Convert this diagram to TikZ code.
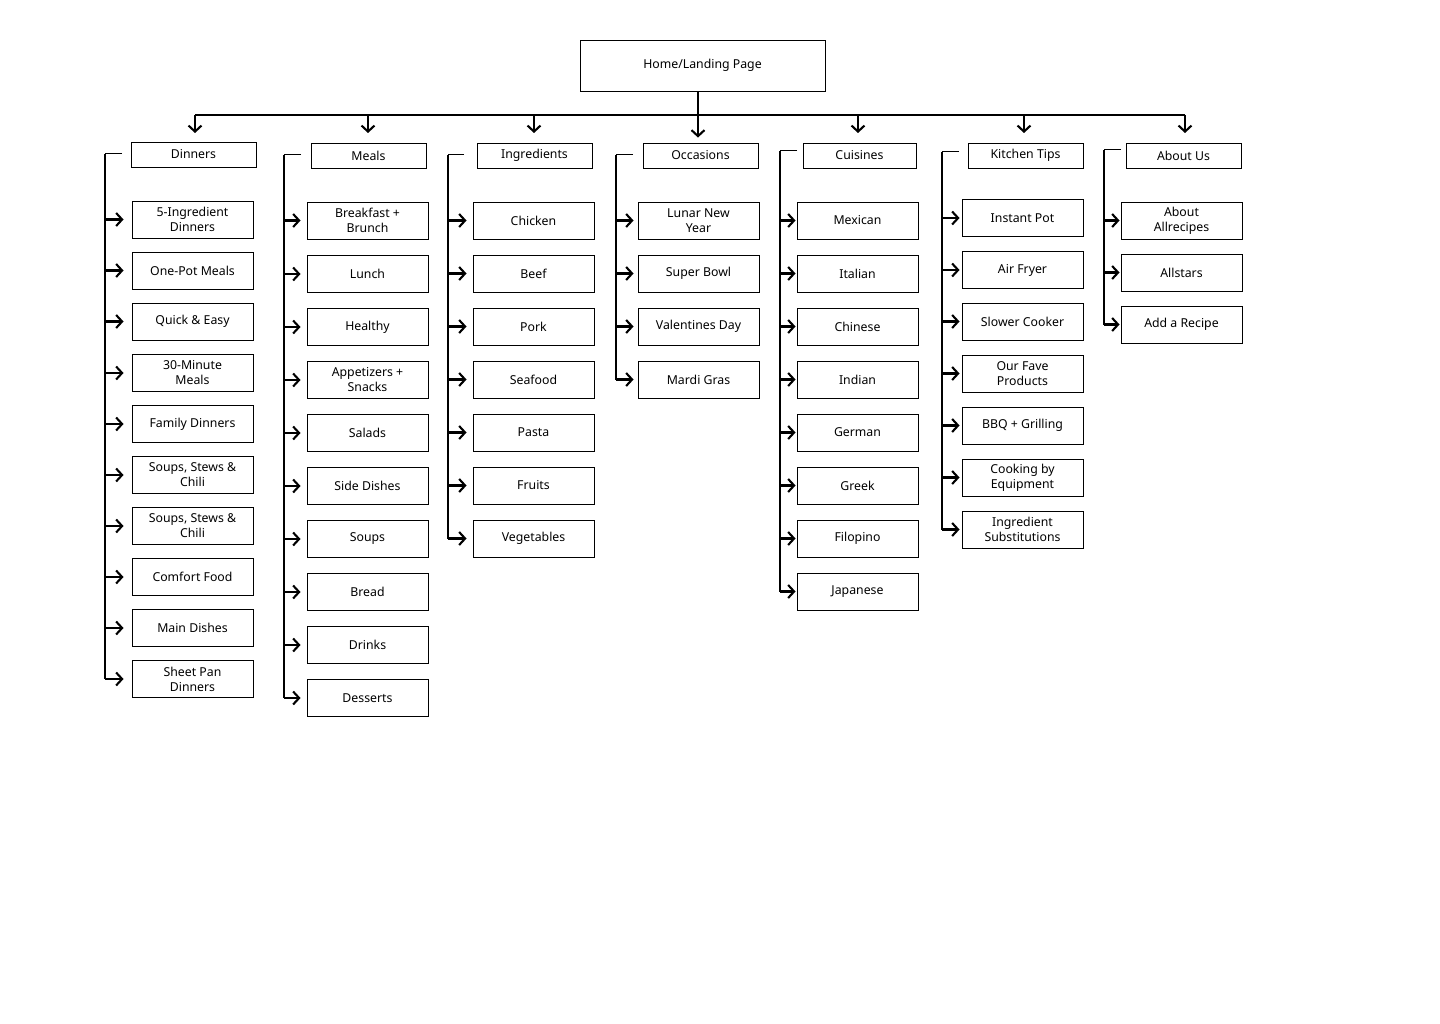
\documentclass[tikz,border=0pt]{standalone}
\usepackage{fontspec}
\setmainfont{Noto Sans}
\usetikzlibrary{arrows.meta}
\begin{document}
\begin{tikzpicture}[x=1pt,y=-1pt,
  every node/.style={font=\fontsize{12.3}{15}\selectfont, align=center, inner sep=0pt},
  pagebox/.style={draw, line width=0.9pt, minimum width=121pt, minimum height=37pt},
  headbox/.style={draw, line width=0.9pt, minimum width=115pt, minimum height=25pt},
  rootbox/.style={draw, line width=0.9pt, minimum width=245pt, minimum height=51pt},
  link/.style={line width=1.3pt},
  stub/.style={line width=1pt},
  arr/.style={line width=2.1pt, -{Straight Barb[length=6pt,width=13pt,line width=2.1pt]}}]
\useasboundingbox (0,0) rectangle (1440,1024);

% root
\node[rootbox] (home) at (702.5,65.5) {Home/Landing Page};

% section headers
\node[headbox, minimum width=125pt] (h1) at (193.5,154.5) {Dinners};
\node[headbox] (h2) at (368.5,155.5) {Meals};
\node[headbox] (h3) at (534.5,155.5) {Ingredients};
\node[headbox] (h4) at (700.5,155.5) {Occasions};
\node[headbox, minimum width=113pt] (h5) at (859.5,155.5) {Cuisines};
\node[headbox] (h6) at (1025.5,155.5) {Kitchen Tips};
\node[headbox] (h7) at (1183.5,155.5) {About Us};

% distribution bar
\coordinate (barL) at (195,115);
\coordinate (barR) at (1185,115);
\draw[link] (barL) -- (barR);
\draw[arr, shorten >=5pt] ([xshift=-4.5pt]home.south) -- ([xshift=-4.5pt]home.south |- h4.north);
\foreach \h/\x in {h1/195, h2/368, h3/534, h5/858, h6/1024, h7/1185}
  \draw[arr, shorten >=10pt] (\x,115) -- (\x,143);

% Dinners
\foreach \i/\y/\t in {1/219.5/{5-Ingredient\\Dinners}, 2/270.5/{One-Pot Meals}, 3/321.5/{Quick \& Easy},
  4/373/{30-Minute\\Meals}, 5/424/{Family Dinners}, 6/475/{Soups, Stews \&\\Chili},
  7/526/{Soups, Stews \&\\Chili}, 8/577/{Comfort Food}, 9/628/{Main Dishes}, 10/679/{Sheet Pan\\Dinners}}
  \node[pagebox] (d\i) at (192.5,\y) {\t};
\coordinate (dT) at (105,154);
\coordinate (dS) at (122,154);
\draw[stub] (dS) -- (dT);
\draw[link] (dT) -- (dT |- d10.west);
\foreach \i in {1,...,10} \draw[arr, shorten >=8pt] (dT |- d\i.west) -- (d\i.west);

% Meals
\foreach \i/\y/\t in {1/220.5/{Breakfast +\\Brunch}, 2/274/Lunch, 3/327/Healthy, 4/380/{Appetizers +\\Snacks},
  5/433/Salads, 6/486/{Side Dishes}, 7/539/Soups, 8/592/Bread, 9/645/Drinks, 10/698/Desserts}
  \node[pagebox] (m\i) at (367.5,\y) {\t};
\coordinate (mT) at (284,155);
\coordinate (mS) at (301,155);
\draw[stub] (mS) -- (mT);
\draw[link] (mT) -- (mT |- m10.west);
\foreach \i in {1,...,10} \draw[arr, shorten >=6pt] (mT |- m\i.west) -- (m\i.west);

% Ingredients
\foreach \i/\y/\t in {1/220.5/Chicken, 2/273.5/Beef, 3/326.5/Pork, 4/379.5/Seafood,
  5/432.5/Pasta, 6/485.5/Fruits, 7/538.5/Vegetables}
  \node[pagebox] (g\i) at (533.5,\y) {\t};
\coordinate (gT) at (448,155);
\coordinate (gS) at (464,155);
\draw[stub] (gS) -- (gT);
\draw[link] (gT) -- (gT |- g7.west);
\foreach \i in {1,...,7} \draw[arr, shorten >=6pt] (gT |- g\i.west) -- (g\i.west);

% Occasions
\foreach \i/\y/\t in {1/220.5/{Lunar New\\Year}, 2/273.5/{Super Bowl}, 3/326.5/{Valentines Day}, 4/379.5/{Mardi Gras}}
  \node[pagebox] (o\i) at (698.5,\y) {\t};
\coordinate (oT) at (616,155);
\coordinate (oS) at (633,155);
\draw[stub] (oS) -- (oT);
\draw[link] (oT) -- (oT |- o4.west);
\foreach \i in {1,...,4} \draw[arr, shorten >=4pt] (oT |- o\i.west) -- (o\i.west);

% Cuisines
\foreach \i/\y/\t in {1/220.5/Mexican, 2/273.5/Italian, 3/326.5/Chinese, 4/379.5/Indian,
  5/432.5/German, 6/485.5/Greek, 7/538.5/Filopino, 8/591.5/Japanese}
  \node[pagebox] (c\i) at (857.5,\y) {\t};
\coordinate (cT) at (780,151);
\coordinate (cS) at (797,151);
\draw[stub] (cS) -- (cT);
\draw[link] (cT) -- (cT |- c8.west);
\foreach \i in {1,...,8} \draw[arr, shorten >=1pt] (cT |- c\i.west) -- (c\i.west);

% Kitchen Tips
\foreach \i/\y/\t in {1/218/{Instant Pot}, 2/270/{Air Fryer}, 3/321.5/{Slower Cooker}, 4/373.5/{Our Fave\\Products},
  5/425.5/{BBQ + Grilling}, 6/477.5/{Cooking by\\Equipment}, 7/529.5/{Ingredient\\Substitutions}}
  \node[pagebox] (k\i) at (1022.5,\y) {\t};
\coordinate (kT) at (942,152);
\coordinate (kS) at (959,152);
\draw[stub] (kS) -- (kT);
\draw[link] (kT) -- (kT |- k7.west);
\foreach \i in {1,...,7} \draw[arr, shorten >=2pt] (kT |- k\i.west) -- (k\i.west);

% About Us
\foreach \i/\y/\t in {1/220.5/{About\\Allrecipes}, 2/272.5/Allstars, 3/324.5/{Add a Recipe}}
  \node[pagebox] (a\i) at (1181.5,\y) {\t};
\coordinate (aT) at (1104,150);
\coordinate (aS) at (1121,150);
\draw[stub] (aS) -- (aT);
\draw[link] (aT) -- (aT |- a3.west);
\foreach \i in {1,...,3} \draw[arr, shorten >=1pt] (aT |- a\i.west) -- (a\i.west);
\end{tikzpicture}
\end{document}
